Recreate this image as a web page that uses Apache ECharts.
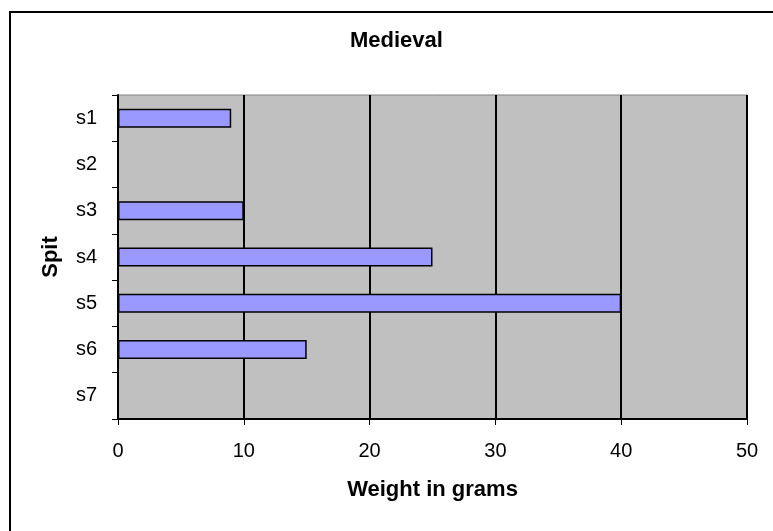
<!DOCTYPE html>
<html><head><meta charset="utf-8">
<script src="https://cdn.jsdelivr.net/npm/echarts@6/dist/echarts.min.js"></script>
<style>html,body{margin:0;padding:0;background:#fff}#c{width:773px;height:531px}</style>
</head><body><div id="c"></div>
<script>
const categories = ['s1','s2','s3','s4','s5','s6','s7'];
const weights = [9, null, 10, 25, 40, 15, null];
const xTicks = [0, 10, 20, 30, 40, 50];

const FONT = 'Liberation Sans, Arial';
const chart = echarts.init(document.getElementById('c'), null, {renderer:'canvas'});
chart.setOption({
  animation:false,
  backgroundColor:'#fff',
  title:{text:'Medieval', left:345, top:25, textStyle:{fontFamily:FONT, fontSize:22, fontWeight:'bold', color:'#000'}},
  graphic:[{type:'rect', shape:{x:10,y:12,width:800,height:560}, style:{fill:null, stroke:'#000', lineWidth:2}, z:-1}],
  grid:{left:118, right:26, top:95, bottom:112, show:true, backgroundColor:'#c0c0c0', borderColor:'#808080', borderWidth:1},
  xAxis:{type:'value', min:xTicks[0], max:xTicks[xTicks.length-1], interval:10,
    name:'Weight in grams', nameLocation:'middle', nameGap:60,
    nameTextStyle:{fontFamily:FONT, fontSize:22, fontWeight:'bold', color:'#000'},
    axisLine:{show:true, lineStyle:{color:'#000', width:2}},
    axisTick:{show:true, length:6, lineStyle:{color:'#000'}},
    axisLabel:{fontFamily:FONT, fontSize:20, color:'#000', margin:22},
    splitLine:{show:true, lineStyle:{color:'#000', width:2}}},
  yAxis:{type:'category', data:categories, inverse:true,
    name:'Spit', nameLocation:'middle', nameGap:56, nameRotate:90,
    nameTextStyle:{fontFamily:FONT, fontSize:22, fontWeight:'bold', color:'#000'},
    axisLine:{show:true, lineStyle:{color:'#000', width:2}},
    axisTick:{show:true, length:6, alignWithLabel:false, lineStyle:{color:'#000'}},
    axisLabel:{fontFamily:FONT, fontSize:20, color:'#000', margin:21},
    splitLine:{show:false}},
  series:[{type:'bar', data:weights, barWidth:'41%',
    itemStyle:{color:'#9999ff', borderColor:'#000', borderWidth:1.5}}]
});
</script></body></html>
